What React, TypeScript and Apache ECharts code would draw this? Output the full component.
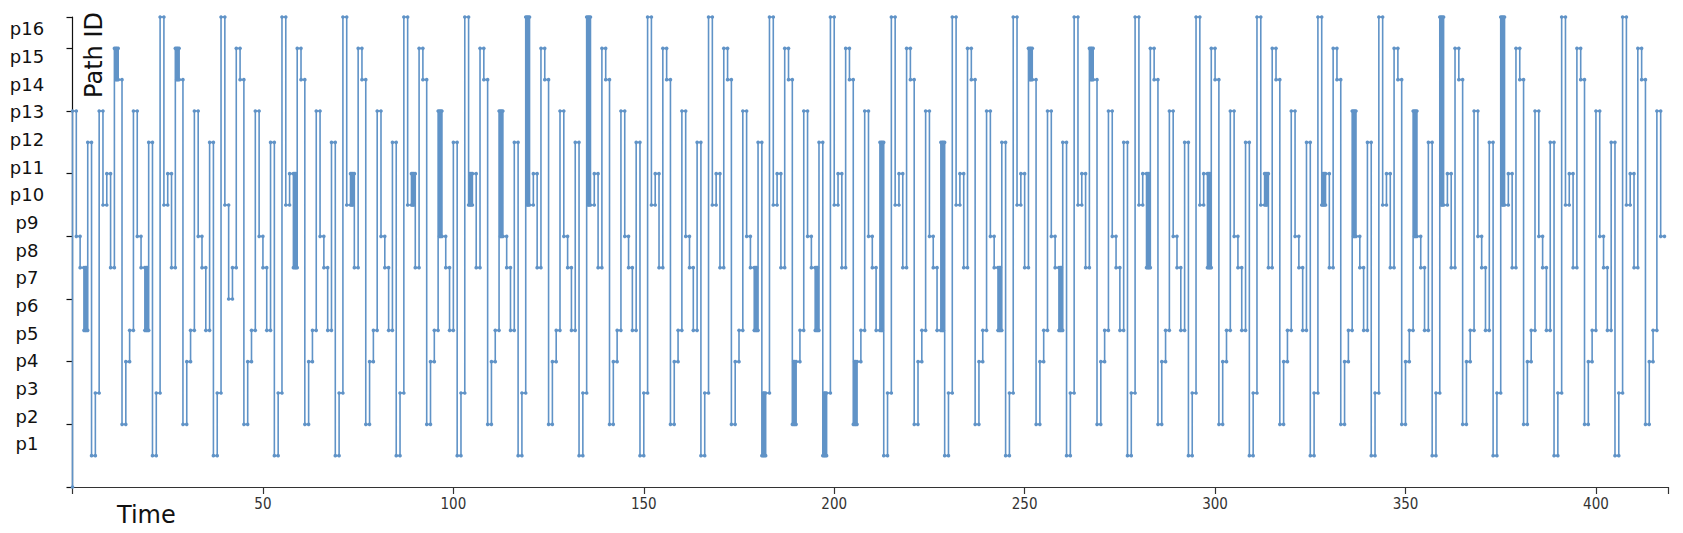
import React, { useEffect, useRef } from "react";
import * as echarts from "echarts";

// Value at the very first instant (t = 0), before the first path is used
const START_VALUE = 0;

// Path level held during each unit step t = 0 .. 417 (16 steps per row)
const PATH_LEVELS = [
  12, 8, 7, 5, 11, 1, 3, 12, 9, 10, 7, 14, 13, 2, 4, 5,
  12, 8, 7, 5, 11, 1, 3, 15, 9, 10, 7, 14, 13, 2, 4, 5,
  12, 8, 7, 5, 11, 1, 3, 15, 9, 6, 7, 14, 13, 2, 4, 5,
  12, 8, 7, 5, 11, 1, 3, 15, 9, 10, 7, 14, 13, 2, 4, 5,
  12, 8, 7, 5, 11, 1, 3, 15, 9, 10, 7, 14, 13, 2, 4, 5,
  12, 8, 7, 5, 11, 1, 3, 15, 9, 10, 7, 14, 13, 2, 4, 5,
  12, 8, 7, 5, 11, 1, 3, 15, 9, 10, 7, 14, 13, 2, 4, 5,
  12, 8, 7, 5, 11, 1, 3, 15, 9, 10, 7, 14, 13, 2, 4, 5,
  12, 8, 7, 5, 11, 1, 3, 15, 9, 10, 7, 14, 13, 2, 4, 5,
  12, 8, 7, 5, 11, 1, 3, 15, 9, 10, 7, 14, 13, 2, 4, 5,
  12, 8, 7, 5, 11, 1, 3, 15, 9, 10, 7, 14, 13, 2, 4, 5,
  12, 8, 7, 5, 11, 1, 3, 15, 9, 10, 7, 14, 13, 2, 4, 5,
  12, 8, 7, 5, 11, 1, 3, 15, 9, 10, 7, 14, 13, 2, 4, 5,
  12, 8, 7, 5, 11, 1, 3, 15, 9, 10, 7, 14, 13, 2, 4, 5,
  12, 8, 7, 5, 11, 1, 3, 15, 9, 10, 7, 14, 13, 2, 4, 5,
  12, 8, 7, 5, 11, 1, 3, 15, 9, 10, 7, 14, 13, 2, 4, 5,
  12, 8, 7, 5, 11, 1, 3, 15, 9, 10, 7, 14, 13, 2, 4, 5,
  12, 8, 7, 5, 11, 1, 3, 15, 9, 10, 7, 14, 13, 2, 4, 5,
  12, 8, 7, 5, 11, 1, 3, 15, 9, 10, 7, 14, 13, 2, 4, 5,
  12, 8, 7, 5, 11, 1, 3, 15, 9, 10, 7, 14, 13, 2, 4, 5,
  12, 8, 7, 5, 11, 1, 3, 15, 9, 10, 7, 14, 13, 2, 4, 5,
  12, 8, 7, 5, 11, 1, 3, 15, 9, 10, 7, 14, 13, 2, 4, 5,
  12, 8, 7, 5, 11, 1, 3, 15, 9, 10, 7, 14, 13, 2, 4, 5,
  12, 8, 7, 5, 11, 1, 3, 15, 9, 10, 7, 14, 13, 2, 4, 5,
  12, 8, 7, 5, 11, 1, 3, 15, 9, 10, 7, 14, 13, 2, 4, 5,
  12, 8, 7, 5, 11, 1, 3, 15, 9, 10, 7, 14, 13, 2, 4, 5,
  12, 8,
];

// Steps where the path flickers quickly between its level and another: [t, other level]
const FLICKERS: [number, number][] = [
  [3, 7], [11, 13], [19, 7], [27, 13], [58, 10], [73, 9], [89, 9], [96, 8],
  [104, 10], [112, 8], [119, 9], [135, 9], [179, 7], [181, 3], [189, 4], [195, 7],
  [197, 3], [205, 4], [212, 5], [228, 5], [243, 7], [251, 13], [259, 7], [267, 13],
  [282, 10], [298, 10], [313, 9], [328, 10], [336, 8], [352, 8], [359, 9], [375, 9],
];

// Path labels shown at the left
const Y_LABELS = [
  "p1", "p2", "p3", "p4", "p5", "p6", "p7", "p8",
  "p9", "p10", "p11", "p12", "p13", "p14", "p15", "p16",
];

const X_MIN = 0;
const X_MAX = 419;
const X_INTERVAL = 50;
const Y_MIN = 0;
const Y_MAX = 15;
const Y_INTERVAL = 2;

function buildPoints(): [number, number][] {
  const flick = new Map<number, number>(FLICKERS.map(([t, a]) => [t, a]));
  const pts: [number, number][] = [[0, START_VALUE]];
  PATH_LEVELS.forEach((v, t) => {
    pts.push([t, v]);
    const alt = flick.get(t);
    if (alt !== undefined) {
      [0.35, 0.65].forEach((f, k) => {
        const from = k % 2 === 0 ? v : alt;
        const to = k % 2 === 0 ? alt : v;
        pts.push([t + f, from]);
        pts.push([t + f, to]);
      });
    }
    pts.push([t + 1, v]);
  });
  return pts;
}

export default function App() {
  const ref = useRef<HTMLDivElement>(null);

  useEffect(() => {
    if (!ref.current) return;
    const chart = echarts.init(ref.current, undefined, { renderer: "svg" });
    const lineColor = "#6093c7";

    const labelGraphics = Y_LABELS.map((txt, i) => ({
      type: "text",
      x: 27,
      y: 443.7 - i * 27.66,
      style: {
        text: txt,
        font: '18px "DejaVu Sans"',
        fill: "#111",
        align: "center",
        verticalAlign: "middle",
      },
    }));

    chart.setOption({
      animation: false,
      backgroundColor: "#ffffff",
      grid: { left: 72.5, right: 14.7, top: 17, bottom: 46, containLabel: false },
      xAxis: {
        type: "value",
        min: X_MIN,
        max: X_MAX,
        interval: X_INTERVAL,
        axisLine: { show: true, onZero: false, lineStyle: { color: "#333", width: 1.2 } },
        axisTick: { show: true, length: 7, lineStyle: { color: "#333", width: 1.2 } },
        axisLabel: {
          show: true,
          margin: 9,
          color: "#333",
          fontSize: 15,
          fontFamily: '"Liberation Sans Narrow", "DejaVu Sans Condensed", sans-serif',
          formatter: (v: number) => (v > 0 && v % X_INTERVAL === 0 ? String(v) : ""),
        },
        splitLine: { show: false },
      },
      yAxis: {
        type: "value",
        min: Y_MIN,
        max: Y_MAX,
        interval: Y_INTERVAL,
        axisLine: { show: true, onZero: false, lineStyle: { color: "#111", width: 1.2 } },
        axisTick: { show: true, length: 6, lineStyle: { color: "#111", width: 1.2 } },
        axisLabel: { show: false },
        splitLine: { show: false },
      },
      series: [
        {
          type: "line",
          data: buildPoints(),
          clip: false,
          showSymbol: true,
          showAllSymbol: true,
          symbol: "circle",
          symbolSize: 3.6,
          itemStyle: { color: lineColor },
          lineStyle: { color: lineColor, width: 1.6 },
          emphasis: { disabled: true },
          z: 3,
        },
      ],
      graphic: [
        ...labelGraphics,
        {
          type: "text",
          x: 117,
          y: 515,
          style: {
            text: "Time",
            font: '24px "DejaVu Sans"',
            fill: "#111",
            align: "left",
            verticalAlign: "middle",
          },
        },
        {
          type: "text",
          x: 94,
          y: 55,
          rotation: Math.PI / 2,
          style: {
            text: "Path ID",
            font: '24px "DejaVu Sans"',
            fill: "#111",
            align: "center",
            verticalAlign: "middle",
          },
        },
      ],
    });

    return () => chart.dispose();
  }, []);

  return (
    <div
      ref={ref}
      style={{ position: "fixed", left: 0, top: 0, width: 1683, height: 533, background: "#fff" }}
    />
  );
}
